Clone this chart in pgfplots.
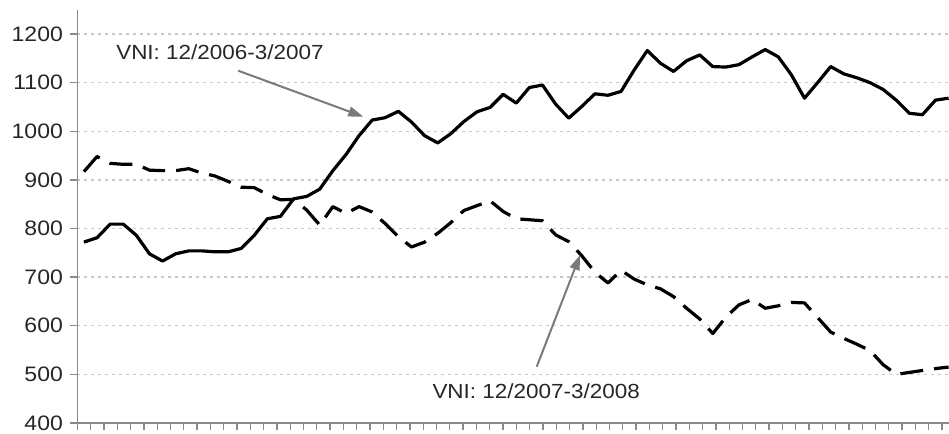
\documentclass[border=0pt]{standalone}
\usepackage{fontspec}
\setmainfont{Liberation Sans}[FakeStretch=1.1]
\usepackage{pgfplots}
\usepackage{pgfplotstable}
\pgfplotsset{compat=1.18}
\usetikzlibrary{arrows.meta}

% VNI index, daily closes
\pgfplotstableread{
idx  a     b
0    772   917
1    781   948
2    809   934
3    809   932
4    786   932
5    748   920
6    733   919
7    748   919
8    754   923
9    754   914
10   752   908
11   752   897
12   759   885
13   786   884
14   820   870
15   825   859
16   861   860
17   866   838
18   881   807
19   919   845
20   952   831
21   991   845
22   1023  834
23   1028  810
24   1041  783
25   1019  762
26   991   772
27   976   790
28   995   812
29   1020  837
30   1040  847
31   1049  857
32   1076  835
33   1058  820
34   1090  818
35   1095  816
36   1056  787
37   1027  773
38   1051  744
39   1077  710
40   1074  688
41   1082  714
42   1126  696
43   1166  684
44   1140  676
45   1123  660
46   1145  636
47   1157  614
48   1133  584
49   1132  618
50   1137  643
51   1153  654
52   1168  636
53   1153  641
54   1116  648
55   1068  647
56   1100  617
57   1133  587
58   1118  574
59   1110  562
60   1100  549
61   1086  520
62   1064  500
63   1037  504
64   1034  508
65   1064  512
66   1068  515
}\vnidata

\definecolor{axisgray}{HTML}{8A8A8A}
\definecolor{gridgray}{HTML}{C8C8C8}
\definecolor{arrowgray}{HTML}{7A7A7A}

\begin{document}
\begin{tikzpicture}
\begin{axis}[
    scale only axis,
    width=871.6bp, height=413.3bp,
    xmin=-0.5, xmax=66.03,
    ymin=400, ymax=1250,
    axis x line*=bottom,
    axis y line*=left,
    axis line style={draw=axisgray, line width=1.6bp},
    xtick={-0.5,0.5153,...,66}, xticklabels={},
    ytick={400,500,...,1200},
    tick align=outside,
    major tick length=7bp,
    tick style={draw=axisgray, line width=1.3bp},
    ymajorgrids,
    grid style={draw=gridgray, line width=1.3bp, dash pattern=on 3bp off 4bp},
    /pgf/number format/assume math mode=true,
    /pgf/number format/1000 sep={},
    yticklabel style={font=\fontsize{21}{24}\selectfont, text=black!85, xshift=-4bp},
]
\addplot[black, line width=3.2bp, line join=round] table[x=idx, y=a] {\vnidata};
\addplot[black, line width=3.2bp, line join=round, dash pattern=on 23bp off 11bp] table[x=idx, y=b] {\vnidata};

\node[anchor=base west, font=\fontsize{20.5}{24}\selectfont, text=black!85] at (axis cs:2.2,1148.6) {VNI: 12/2006-3/2007};
\node[anchor=base east, font=\fontsize{20.5}{24}\selectfont, text=black!85] at (axis cs:42.7,449.4) {VNI: 12/2007-3/2008};
\draw[arrowgray, line width=2bp, -{Triangle[length=15bp,width=10bp]}] (axis cs:11.78,1124.5) -- (axis cs:21.32,1030);
\draw[arrowgray, line width=2bp, -{Triangle[length=15bp,width=10bp]}] (axis cs:34.56,515.8) -- (axis cs:37.87,745.5);
\end{axis}
\pgfresetboundingbox
\path[use as bounding box] (-77.4bp,-11bp) rectangle (871.6bp,423bp);
\end{tikzpicture}
\end{document}
